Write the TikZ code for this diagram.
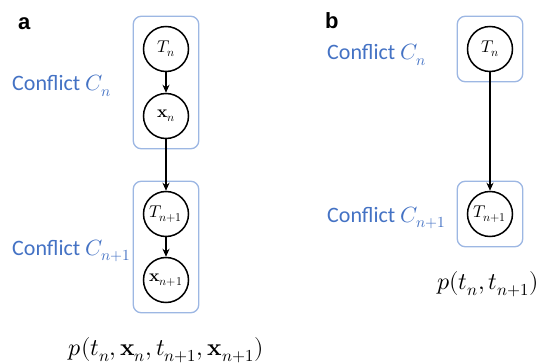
\documentclass[tikz,border=0pt]{standalone}
\usepackage{fontspec}
\usepackage{unicode-math}
\setmainfont{Carlito}
\setmathfont{Latin Modern Math}
\newfontfamily\panelfont{Liberation Sans}
\usetikzlibrary{fit,arrows.meta}

\definecolor{confblue}{HTML}{4472C4}
\definecolor{plateblue}{HTML}{9DB7E3}

\tikzset{
  var/.style={circle, draw, line width=1.5pt, minimum size=45pt, inner sep=0pt,
    font=\fontsize{17}{19}\selectfont},
  plate/.style={draw=plateblue, line width=1.3pt, rounded corners=8pt, inner sep=9.5pt},
  conflabel/.style={anchor=west, text=confblue, inner sep=0pt,
    font=\fontsize{22}{26}\selectfont},
  edge/.style={-{Stealth[length=8pt,width=7pt]}, line width=1.3pt},
  joint/.style={inner sep=0pt, font=\fontsize{24}{28}\selectfont},
  panel/.style={anchor=base west, inner sep=0pt, font=\panelfont\bfseries\fontsize{22}{26}\selectfont}
}

\begin{document}
\begin{tikzpicture}[x=1pt,y=-1pt]
\useasboundingbox (0,0) rectangle (542,364);

% panel a
\node[panel] (pa) at (18,29) {a};
\node[var] (Tn) at (166,49) {$T_n$};
\node[var] (Xn) at (166,116) {$\symbf{x}_n$};
\node[var] (Tm) at (166,214) {$T_{n+1}$};
\node[var] (Xm) at (166,280) {$\symbf{x}_{n+1}$};
\node[plate, fit=(Tn)(Xn)] (Cn) {};
\node[plate, fit=(Tm)(Xm)] (Cm) {};
\node[conflabel] (Ln) at (12,86) {Conflict $C_n$};
\node[conflabel] (Lm) at (12,251) {Conflict $C_{n+1}$};
\node[joint] (pA) at (166,350) {$p(t_n,\symbf{x}_n,t_{n+1},\symbf{x}_{n+1})$};

\draw[edge] (Tn) -- (Xn);
\draw[edge] (Xn) -- (Tm);
\draw[edge] (Tm) -- (Xm);

% panel b
\node[panel] (pb) at (325,28) {b};
\node[var] (Tbn) at (490,49) {$T_n$};
\node[var] (Tbm) at (490,214) {$T_{n+1}$};
\node[plate, fit=(Tbn)] (Cbn) {};
\node[plate, fit=(Tbm)] (Cbm) {};
\node[conflabel] (Lbn) at (327,55) {Conflict $C_n$};
\node[conflabel] (Lbm) at (327,218) {Conflict $C_{n+1}$};
\node[joint] (pB) at (488,284) {$p(t_n,t_{n+1})$};

\draw[edge] (Tbn) -- (Tbm);
\end{tikzpicture}
\end{document}
